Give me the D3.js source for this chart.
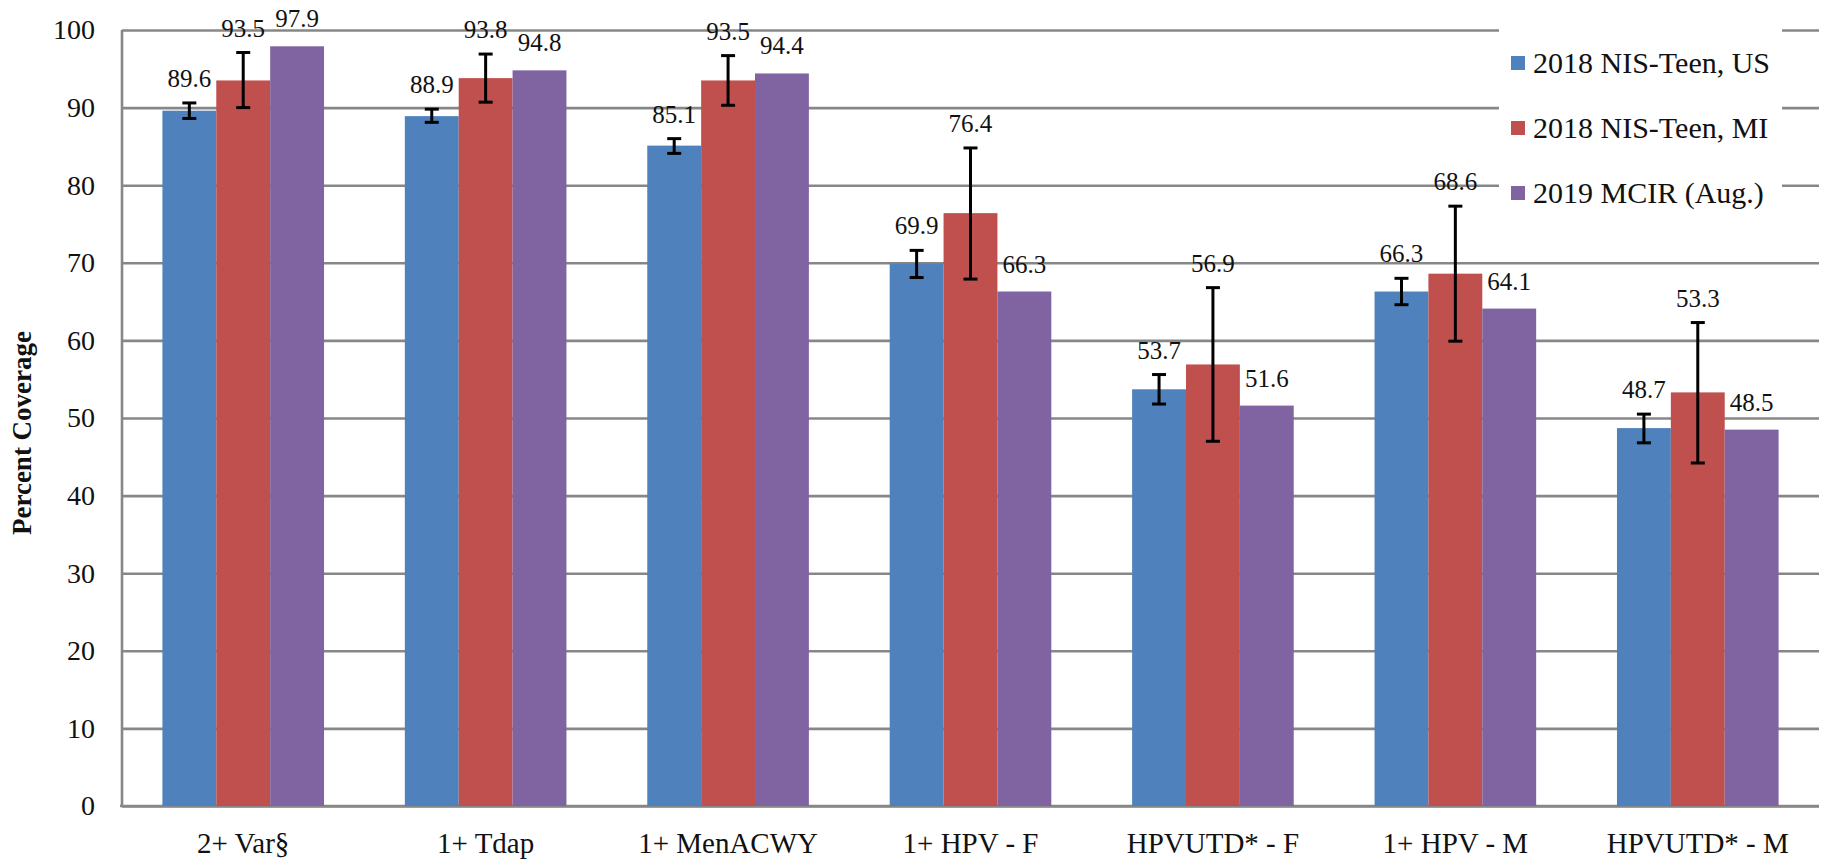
<!DOCTYPE html>
<html>
<head>
<meta charset="utf-8">
<script src="https://cdn.jsdelivr.net/npm/d3@7"></script>
<style>
  html, body { margin: 0; padding: 0; background: #fff; }
  svg { display: block; }
  text { font-family: "Liberation Serif", "Times New Roman", serif; fill: #111; }
</style>
</head>
<body>
<svg id="chart" width="1830" height="860"></svg>
<script>
// ---- data ----
const categories = ["2+ Var§", "1+ Tdap", "1+ MenACWY", "1+ HPV - F", "HPVUTD* - F", "1+ HPV - M", "HPVUTD* - M"];
const seriesNames = ["2018 NIS-Teen, US", "2018 NIS-Teen, MI", "2019 MCIR (Aug.)"];
const nisUS   = [89.6, 88.9, 85.1, 69.9, 53.7, 66.3, 48.7];
const nisMI   = [93.5, 93.8, 93.5, 76.4, 56.9, 68.6, 53.3];
const mcir    = [97.9, 94.8, 94.4, 66.3, 51.6, 64.1, 48.5];
const nisUSLow  = [88.6, 88.1, 84.1, 68.1, 51.8, 64.6, 46.8];
const nisUSHigh = [90.6, 89.8, 86.0, 71.6, 55.6, 68.0, 50.5];
const nisMILow  = [90.0, 90.7, 90.3, 67.9, 47.0, 59.9, 44.2];
const nisMIHigh = [97.1, 96.9, 96.7, 84.8, 66.8, 77.3, 62.3];
const yTicks = [0, 10, 20, 30, 40, 50, 60, 70, 80, 90, 100];
const yTitle = "Percent Coverage";

const colors = ["#4F81BD", "#C0504D", "#8064A2"];

(function () {
// build table
const seriesValues = [nisUS, nisMI, mcir];
const seriesLow = [nisUSLow, nisMILow, null];
const seriesHigh = [nisUSHigh, nisMIHigh, null];
const rows = categories.map((c, i) => ({
  cat: c,
  items: seriesNames.map((s, j) => ({
    series: s, j,
    value: seriesValues[j][i],
    low: seriesLow[j] ? seriesLow[j][i] : null,
    high: seriesHigh[j] ? seriesHigh[j][i] : null
  }))
}));

// ---- layout ----
const svg = d3.select("#chart");
const pLeft = 122, pRight = 1819, pTop = 30, pBottom = 806;
const gridColor = "#878787";

const x = d3.scaleBand().domain(categories).range([pLeft, pRight])
  .paddingInner(1/3).paddingOuter(1/6);
const xs = d3.scaleBand().domain(seriesNames).range([0, x.bandwidth()]).padding(0);
const y = d3.scaleLinear().domain([0, 100]).range([pBottom, pTop]);

// gridlines + y ticks
const yAxis = d3.axisLeft(y).tickValues(yTicks).tickSize(-(pRight - pLeft)).tickFormat(d3.format("d")).tickPadding(27);
const gy = svg.append("g").attr("transform", `translate(${pLeft},0)`).call(yAxis);
gy.attr("font-family", null);
gy.select(".domain").remove();
gy.selectAll(".tick line").attr("stroke", gridColor).attr("stroke-width", 2.6);
gy.selectAll(".tick text").attr("font-size", 28).attr("fill", "#111")
  .style("font-family", '"Liberation Serif", serif');

// axis lines
svg.append("line").attr("x1", pLeft).attr("x2", pLeft).attr("y1", pTop).attr("y2", pBottom)
  .attr("stroke", gridColor).attr("stroke-width", 2.6);
svg.append("line").attr("x1", pLeft - 2).attr("x2", pRight).attr("y1", pBottom).attr("y2", pBottom)
  .attr("stroke", gridColor).attr("stroke-width", 2.6);

// legend background (occludes gridlines)
const legend = svg.append("g");
legend.append("rect").attr("x", 1499).attr("y", 22).attr("width", 283).attr("height", 212).attr("fill", "#fff");

// bars
const groups = svg.append("g").selectAll("g").data(rows).join("g")
  .attr("transform", d => `translate(${x(d.cat)},0)`);
groups.selectAll("rect").data(d => d.items).join("rect")
  .attr("x", d => xs(d.series))
  .attr("width", xs.bandwidth())
  .attr("y", d => y(d.value))
  .attr("height", d => y(0) - y(d.value))
  .attr("fill", d => colors[d.j]);

// error bars
const capW = 14;
const cx = d => xs(d.series) + xs.bandwidth() / 2;
const eb = groups.selectAll("g.err").data(d => d.items.filter(it => it.low != null)).join("g").attr("class", "err");
eb.append("line")
  .attr("x1", cx).attr("x2", cx)
  .attr("y1", d => y(d.low)).attr("y2", d => y(d.high))
  .attr("stroke", "#000").attr("stroke-width", 3);
eb.append("line")
  .attr("x1", d => cx(d) - capW / 2).attr("x2", d => cx(d) + capW / 2)
  .attr("y1", d => y(d.low)).attr("y2", d => y(d.low))
  .attr("stroke", "#000").attr("stroke-width", 3);
eb.append("line")
  .attr("x1", d => cx(d) - capW / 2).attr("x2", d => cx(d) + capW / 2)
  .attr("y1", d => y(d.high)).attr("y2", d => y(d.high))
  .attr("stroke", "#000").attr("stroke-width", 3);

// data labels
groups.selectAll("text.lbl").data(d => d.items).join("text").attr("class", "lbl")
  .attr("x", cx)
  .attr("y", d => d.high != null ? y(d.high) - 16 : y(d.value) - 19)
  .attr("text-anchor", "middle")
  .attr("font-size", 25)
  .text(d => d3.format(".1f")(d.value));

// category labels
svg.append("g").selectAll("text").data(categories).join("text")
  .attr("x", d => x(d) + x.bandwidth() / 2)
  .attr("y", 853)
  .attr("text-anchor", "middle")
  .attr("font-size", 29)
  .text(d => d);

// y title
svg.append("text")
  .attr("transform", `translate(31,433) rotate(-90)`)
  .attr("text-anchor", "middle")
  .attr("font-size", 27)
  .attr("font-weight", "bold")
  .text(yTitle);

// legend items
const li = legend.selectAll("g.item").data(seriesNames).join("g").attr("class", "item")
  .attr("transform", (d, i) => `translate(1511, ${63 + i * 65})`);
li.append("rect").attr("x", 0).attr("y", -7).attr("width", 14).attr("height", 14)
  .attr("fill", (d, i) => colors[i]);
li.append("text").attr("x", 22).attr("y", 10).attr("font-size", 30).text(d => d);
})();
</script>
</body>
</html>
